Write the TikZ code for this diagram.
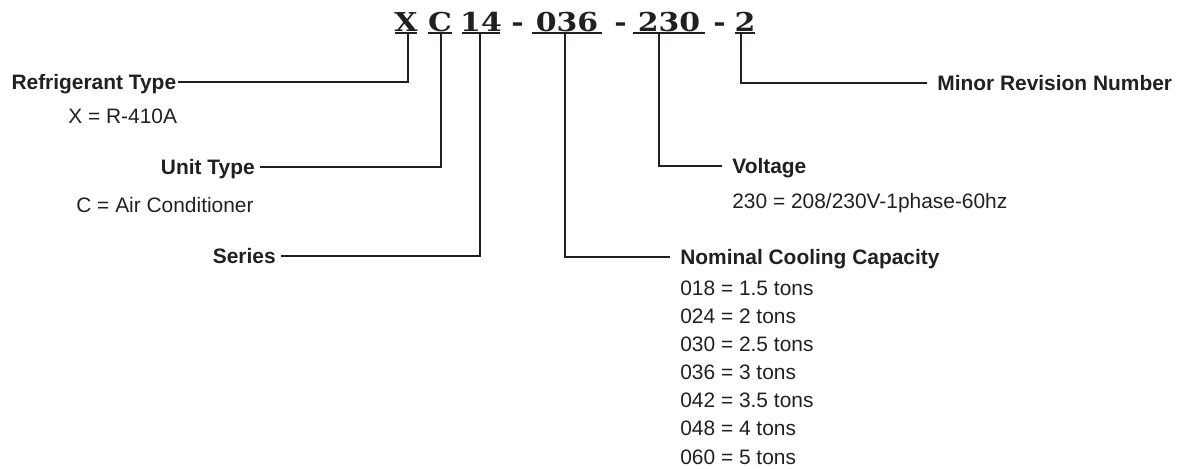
\documentclass[tikz,border=0pt]{standalone}
\usepackage{fontspec}
\setmainfont{Liberation Sans}
\newfontfamily\codefont[FakeStretch=1.15]{DejaVu Serif}
\usepackage{tikz}
\usetikzlibrary{positioning,calc}
\definecolor{Ink}{HTML}{231F20}

\begin{document}
\begin{tikzpicture}[
    x=0.2mm, y=-0.2mm,
    rule/.style={draw=Ink,line width=0.4mm},
    code/.style={anchor=base,inner sep=0pt,text=Ink,
      font=\codefont\fontsize{14.8pt}{16pt}\selectfont\bfseries},
    lab/.style={inner ysep=0pt,text height=3mm,text depth=0pt,text=Ink,
      font=\fontsize{11.9pt}{14pt}\selectfont\bfseries},
    labl/.style={lab,anchor=east,inner xsep=1mm},
    labr/.style={lab,anchor=west,inner xsep=2mm},
    desc/.style={anchor=base west,inner sep=0pt,text=Ink,
      font=\fontsize{11.9pt}{14pt}\selectfont},
  ]
  \useasboundingbox (0,0) rectangle (1189,468);
  % Model number with underlines
  \foreach \nm/\cx/\hw in {X/406/11, C/440/12, 14/481/19, 036/567/35, 230/669/36, 2/745/10}{
    \node[code] (code\nm) at (\cx,31) {\nm};
    \draw[rule] ([xshift=-\hw*0.2mm,yshift=-0.4mm]code\nm.base)
      -- ([xshift=\hw*0.2mm,yshift=-0.4mm]code\nm.base);
  }
  \node[code] (dashA) at (517.5,31) {-};
  \node[code] (dashB) at (620.5,31) {-};
  \node[code] (dashC) at (719.5,31) {-};
  % Stems under the groups
  \coordinate (stemX) at (408,34);
  \coordinate (stemC) at (441,34);
  \coordinate (stem14) at (480,34);
  \coordinate (stem036) at (565,34);
  \coordinate (stem230) at (659,34);
  \coordinate (stem2) at (741,34);
  % Left side
  \node[labl,inner xsep=0.3mm] (refT) at (178,82) {Refrigerant Type};
  \node[desc] (refD) at (68,123) {X = R-410A};
  \draw[rule] (refT.east) -| (stemX);
  \node[labl] (unitT) at (260,167) {Unit Type};
  \node[desc] (unitD) at (76,212) {C = Air Conditioner};
  \draw[rule] (unitT.east) -| (stemC);
  \node[labl] (serT) at (281,256) {Series};
  \draw[rule] (serT.east) -| (stem14);
  % Right side
  \node[labr] (minT) at (927,83) {Minor Revision Number};
  \draw[rule] (stem2) |- (minT.west);
  \node[labr] (voltT) at (722,166) {Voltage};
  \node[desc] (voltD) at (732,208) {230 = 208/230V-1phase-60hz};
  \draw[rule] (stem230) |- (voltT.west);
  \node[labr] (capT) at (670,257) {Nominal Cooling Capacity};
  \draw[rule] (stem036) |- (capT.west);
  \foreach \i/\t in {0/{018 = 1.5 tons}, 1/{024 = 2 tons}, 2/{030 = 2.5 tons},
      3/{036 = 3 tons}, 4/{042 = 3.5 tons}, 5/{048 = 4 tons}, 6/{060 = 5 tons}}
    \node[desc] (cap\i) at (680,295+28.17*\i) {\t};
\end{tikzpicture}
\end{document}
